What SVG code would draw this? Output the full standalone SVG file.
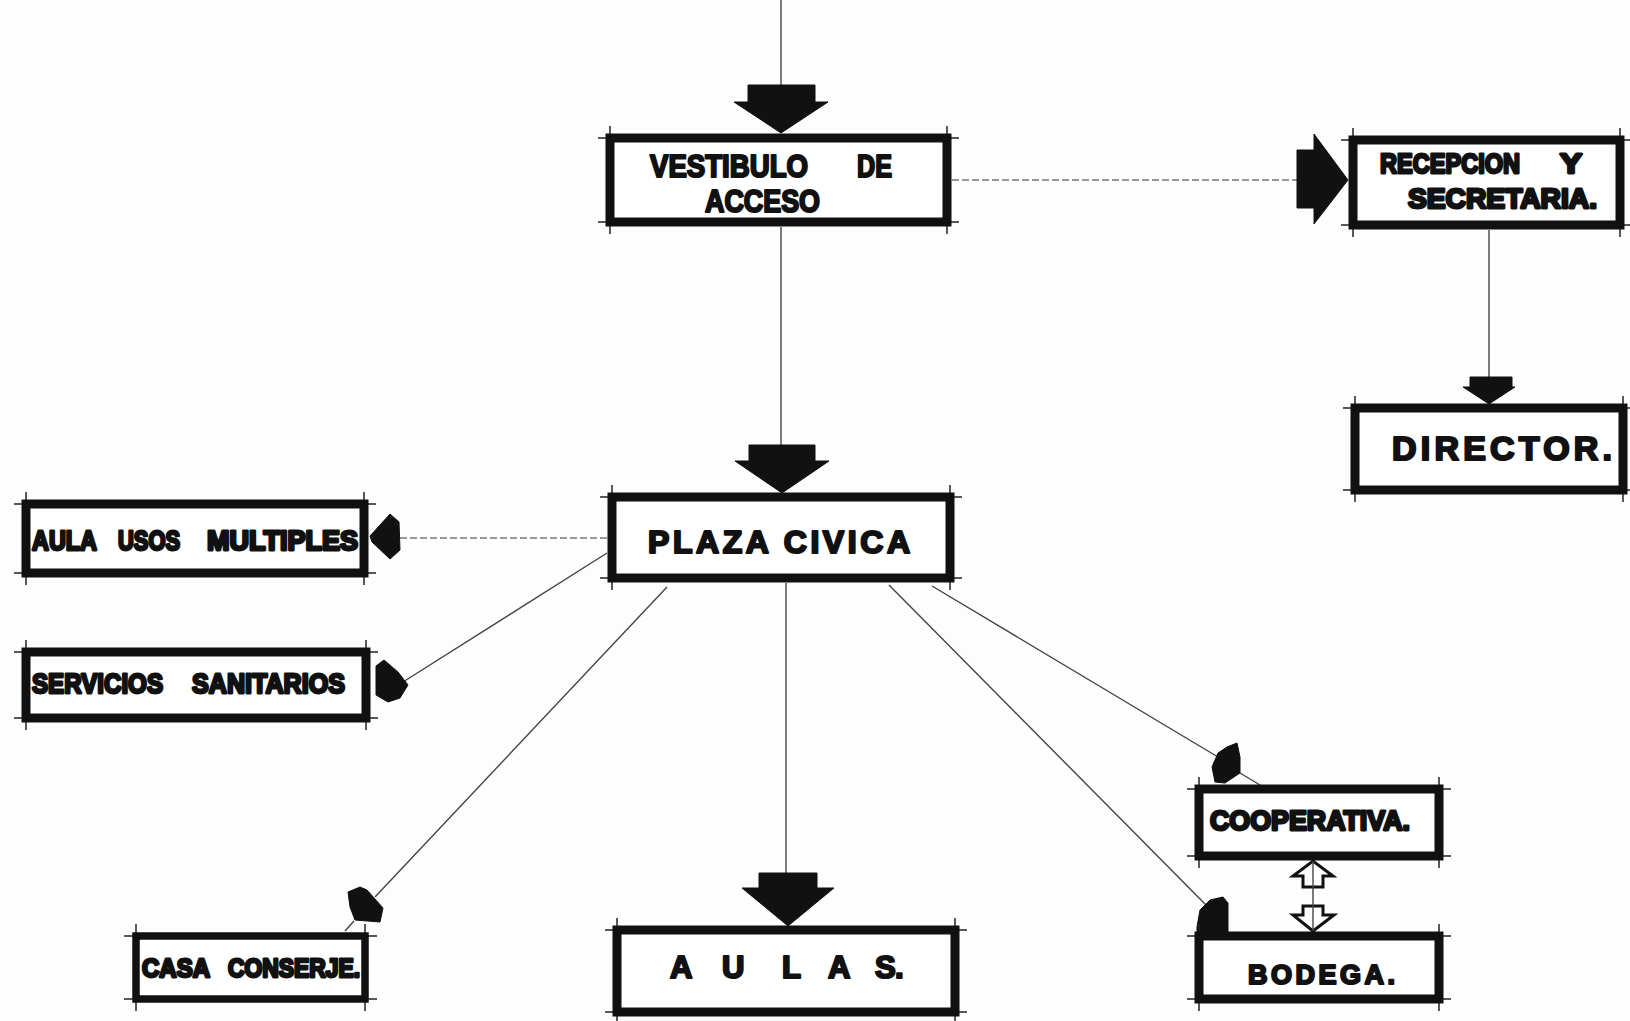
<svg xmlns="http://www.w3.org/2000/svg" width="1630" height="1021" viewBox="0 0 1630 1021">
<style>
.bg{fill:#fdfdfd}
.box{fill:#fff;stroke:#111;stroke-width:9}
.thin{stroke-width:7.5}
.tick{stroke:#222;stroke-width:1.5;fill:none}
.lbl{font-family:"Liberation Sans",Arial,sans-serif;font-weight:bold;fill:#111;stroke:#111;stroke-width:2.2;stroke-linejoin:round}
.heavy{stroke-width:2.8}
.line{stroke:#444;stroke-width:1.4;fill:none}
.dot{stroke:#777;stroke-width:1.4;fill:none;stroke-dasharray:7 3}
.head{fill:#111;stroke:#111;stroke-width:1;stroke-linejoin:round}
.hollow{fill:#fff;stroke:#111;stroke-width:3;stroke-linejoin:miter}
</style>
<rect class="bg" x="0" y="0" width="1630" height="1021"/>

<g id="connectors">
  <path class="line" d="M781 0 V86"/>
  <path class="head" d="M748 85 H815 V102 H828 L781 133 L734 102 H748 Z"/>
  <path class="dot" d="M952 180 H1298"/>
  <path class="head" d="M1297 150 H1314 V134 L1348 180 L1314 224 V208 H1297 Z"/>
  <path class="line" d="M1489 230 V378"/>
  <path class="head" d="M1470 377 H1512 V387 H1515 L1489 404 L1463 387 H1470 Z"/>
  <path class="line" d="M781 227 V446"/>
  <path class="head" d="M749 445 H815 V461 H829 L782 493 L735 461 H749 Z"/>
  <path class="dot" d="M607 538 H398"/>
  <path class="head" d="M370 536 L390 514 L399 522 L400 550 L390 559 L372 542 Z"/>
  <path class="line" d="M607 553 L403 682"/>
  <path class="head" d="M376 666 L384 660 L398 672 L408 685 L400 698 L388 702 L376 695 Z"/>
  <path class="line" d="M667 587 L375 897"/>
  <path class="head" d="M348 892 L360 887 L367 890 L383 908 L380 922 L355 920 L350 907 Z"/>
  <path class="line" d="M354 921 L345 931"/>
  <path class="line" d="M786 583 V874"/>
  <path class="head" d="M759 873 H817 V888 H834 L788 926 L742 888 H759 Z"/>
  <path class="line" d="M932 586 L1218 757"/>
  <path class="head" d="M1212 767 L1218 753 L1227 747 L1237 743 L1240 757 L1240 773 L1225 783 L1215 782 Z"/>
  <path class="line" d="M1240 773 L1260 785"/>
  <path class="line" d="M889 585 L1206 905"/>
  <path class="head" d="M1197 927 L1200 910 L1210 900 L1223 897 L1228 903 L1228 932 L1197 933 Z"/>
  <path class="hollow" d="M1303 887 V876 H1293 L1313 861 L1333 876 H1323 V887 Z"/>
  <path class="hollow" d="M1303 906 V915 H1293 L1313 931 L1334 915 H1323 V906 Z"/>
  <path class="line" d="M1313 861 V931"/>
</g>

<g id="vestibulo">
  <path class="tick" d="M598 138H959 M598 222H959 M610 126V234 M947 126V234"/>
  <rect class="box" x="610" y="138" width="337" height="84"/>
  <text class="lbl" x="650" y="177" font-size="32" textLength="158" lengthAdjust="spacingAndGlyphs">VESTIBULO</text>
  <text class="lbl" x="857" y="177" font-size="32" textLength="35" lengthAdjust="spacingAndGlyphs">DE</text>
  <text class="lbl" x="705" y="212" font-size="32" textLength="115" lengthAdjust="spacingAndGlyphs">ACCESO</text>
</g>

<g id="recepcion">
  <path class="tick" d="M1341 140H1630 M1341 225H1630 M1353 128V237 M1620 128V237"/>
  <rect class="box" x="1353" y="140" width="267" height="85"/>
  <text class="lbl heavy" x="1380" y="173" font-size="28" textLength="140" lengthAdjust="spacingAndGlyphs">RECEPCION</text>
  <text class="lbl heavy" x="1560" y="173" font-size="28" textLength="22" lengthAdjust="spacingAndGlyphs">Y</text>
  <text class="lbl heavy" x="1408" y="208" font-size="28" textLength="189" lengthAdjust="spacingAndGlyphs">SECRETARIA.</text>
</g>

<g id="director">
  <path class="tick" d="M1343 408H1630 M1343 490H1630 M1355 396V502 M1623 396V502"/>
  <rect class="box" x="1355" y="408" width="268" height="82"/>
  <text class="lbl" x="1392" y="460" font-size="34" textLength="220" lengthAdjust="spacing">DIRECTOR.</text>
</g>

<g id="plaza">
  <path class="tick" d="M600 497H962 M600 578H962 M612 485V590 M950 485V590"/>
  <rect class="box" x="612" y="497" width="338" height="81"/>
  <text class="lbl" x="648" y="553" font-size="32" textLength="262" lengthAdjust="spacing">PLAZA CIVICA</text>
</g>

<g id="aula-usos-multiples">
  <path class="tick" d="M14 504H376 M14 573H376 M26 492V585 M364 492V585"/>
  <rect class="box" x="26" y="504" width="338" height="69"/>
  <text class="lbl heavy" x="32" y="550" font-size="27" textLength="65" lengthAdjust="spacingAndGlyphs">AULA</text>
  <text class="lbl heavy" x="118" y="550" font-size="27" textLength="62" lengthAdjust="spacingAndGlyphs">USOS</text>
  <text class="lbl heavy" x="207" y="550" font-size="27" textLength="151" lengthAdjust="spacingAndGlyphs">MULTIPLES</text>
</g>

<g id="servicios-sanitarios">
  <path class="tick" d="M14 652H378 M14 718H378 M26 640V730 M366 640V730"/>
  <rect class="box" x="26" y="652" width="340" height="66"/>
  <text class="lbl heavy" x="32" y="693" font-size="28" textLength="131" lengthAdjust="spacingAndGlyphs">SERVICIOS</text>
  <text class="lbl heavy" x="192" y="693" font-size="28" textLength="153" lengthAdjust="spacingAndGlyphs">SANITARIOS</text>
</g>

<g id="casa-conserje">
  <path class="tick" d="M124 936H377 M124 999H377 M136 924V1011 M365 924V1011"/>
  <rect class="box thin" x="136" y="936" width="229" height="63"/>
  <text class="lbl heavy" x="142" y="977" font-size="26" textLength="68" lengthAdjust="spacingAndGlyphs">CASA</text>
  <text class="lbl heavy" x="228" y="977" font-size="26" textLength="132" lengthAdjust="spacingAndGlyphs">CONSERJE.</text>
</g>

<g id="aulas">
  <path class="tick" d="M605 930H967 M605 1012H967 M617 918V1021 M955 918V1021"/>
  <rect class="box" x="617" y="930" width="338" height="82"/>
  <text class="lbl" y="978" font-size="31" x="670 722 782 828 875 895">AULAS.</text>
</g>

<g id="cooperativa">
  <path class="tick" d="M1187 789H1451 M1187 856H1451 M1199 777V868 M1439 777V868"/>
  <rect class="box" x="1199" y="789" width="240" height="67"/>
  <text class="lbl heavy" x="1210" y="830" font-size="28" textLength="200" lengthAdjust="spacingAndGlyphs">COOPERATIVA.</text>
</g>

<g id="bodega">
  <path class="tick" d="M1187 936H1451 M1187 999H1451 M1199 924V1011 M1439 924V1011"/>
  <rect class="box" x="1199" y="936" width="240" height="63"/>
  <text class="lbl" x="1248" y="984" font-size="27" textLength="147" lengthAdjust="spacing">BODEGA.</text>
</g>
</svg>
